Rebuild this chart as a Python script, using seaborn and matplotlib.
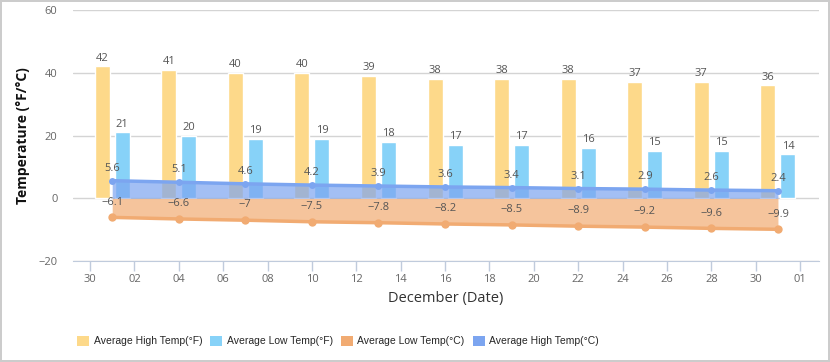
import pandas as pd
import numpy as np
import seaborn as sns
import matplotlib.pyplot as plt
from matplotlib.patches import Patch

# data (December climate)
days = [1, 4, 7, 10, 13, 16, 19, 22, 25, 28, 31]
high_f = [42, 41, 40, 40, 39, 38, 38, 38, 37, 37, 36]
low_f = [21, 20, 19, 19, 18, 17, 17, 16, 15, 15, 14]
low_c = [-6.1, -6.6, -7, -7.5, -7.8, -8.2, -8.5, -8.9, -9.2, -9.6, -9.9]
high_c = [5.6, 5.1, 4.6, 4.2, 3.9, 3.6, 3.4, 3.1, 2.9, 2.6, 2.4]
tick_days = list(range(0, 33, 2))
tick_labels = ['30'] + [f'{d:02d}' for d in range(2, 31, 2)] + ['01']

names = ['Average High Temp(°F)', 'Average Low Temp(°F)',
         'Average Low Temp(°C)', 'Average High Temp(°C)']
colors = ['#fdd98a', '#87d2f8', '#f1ab72', '#7ca5f0']

df_f = pd.DataFrame({
    'day': days * 2,
    'temp': high_f + low_f,
    'series': [names[0]] * len(days) + [names[1]] * len(days),
})

sns.set_style('white')
plt.rcParams['font.family'] = ['Open Sans', 'DejaVu Sans']

fig = plt.figure(figsize=(8.3, 3.62), dpi=100)
fig.patch.set_edgecolor('#cccccc')
fig.patch.set_linewidth(1.5)
ax = fig.add_axes([72.7 / 830, 1 - 261 / 362, (819 - 72.7) / 830, (261 - 10) / 362])

sns.barplot(data=df_f, x='day', y='temp', hue='series', native_scale=True,
            width=0.6, gap=0.25, palette=colors[:2], errorbar=None,
            legend=False, saturation=1, ax=ax, zorder=1)
for cont in ax.containers:
    ax.bar_label(cont, padding=2, fontsize=8, color='#555555')

# Celsius areas + lines
ax.fill_between(days, 0, low_c, color=colors[2], alpha=0.7, lw=0, zorder=2)
ax.fill_between(days, 0, high_c, color=colors[3], alpha=0.7, lw=0, zorder=2)
sns.lineplot(x=days, y=low_c, color=colors[2], lw=2.5, marker='o', markersize=6,
             markeredgewidth=0, ax=ax, zorder=3)
sns.lineplot(x=days, y=high_c, color=colors[3], lw=2.5, marker='o', markersize=5,
             markeredgewidth=0, ax=ax, zorder=3)
for d, v in zip(days, low_c):
    ax.annotate(f'{v:g}'.replace('-', '\u2212'), (d, v), xytext=(0, 7), textcoords='offset points',
                ha='center', va='bottom', fontsize=8, color='#555555', zorder=4)
for d, v in zip(days, high_c):
    ax.annotate(f'{v:g}', (d, v), xytext=(0, 5), textcoords='offset points',
                ha='center', va='bottom', fontsize=8, color='#555555', zorder=4)

ax.set_xlim(-0.78, 32.85)
ax.set_ylim(-20, 60)
ax.set_yticks([-20, 0, 20, 40, 60])
ax.set_xticks(tick_days)
ax.set_xticklabels(tick_labels)
ax.set_axisbelow(True)
ax.yaxis.grid(True, color='#d4d4d4', lw=1)
for s in ['top', 'right', 'left']:
    ax.spines[s].set_visible(False)
ax.spines['bottom'].set_color('#c0cbdc')
ax.tick_params(axis='x', length=7.5, width=1, color='#c0cbdc', pad=2,
               labelsize=8, labelcolor='#666666', bottom=True)
ax.tick_params(axis='y', length=0, pad=11, labelsize=8, labelcolor='#666666')

ax.set_xlabel('December (Date)', fontsize=10.5, color='#333333', labelpad=4)
ax.set_ylabel('Temperature (°F/°C)', fontsize=10, fontweight='bold', color='#111111', labelpad=6)

handles = [Patch(facecolor=c, edgecolor='none') for c in colors]
fig.legend(handles, names, loc='center left', bbox_to_anchor=(68 / 830, 1 - 341 / 362),
           ncol=4, frameon=False, handlelength=1.15, handleheight=1.15, handletextpad=0.4,
           columnspacing=0.8, prop={'family': 'Liberation Sans', 'size': 7.5})

plt.savefig('out.png', dpi=100)
plt.close()
